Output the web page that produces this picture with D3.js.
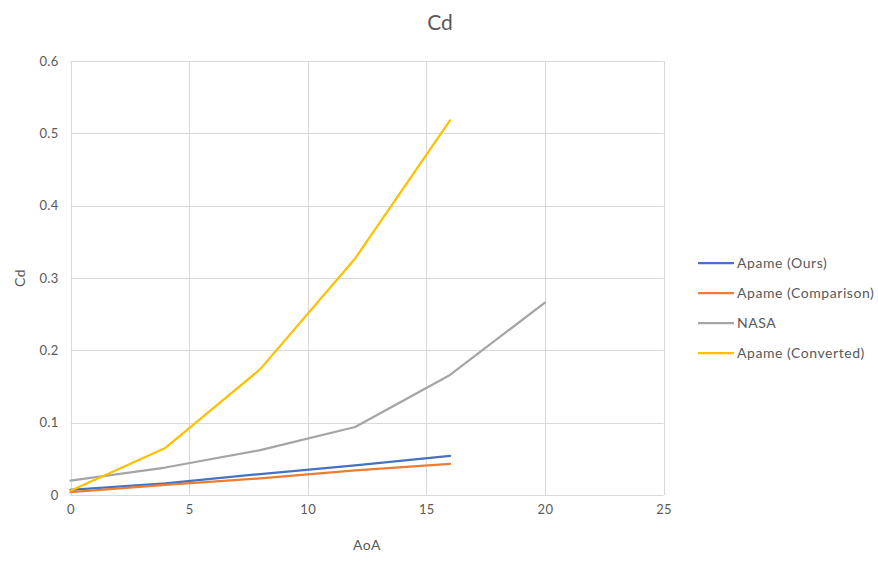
<!DOCTYPE html>
<html>
<head>
<meta charset="utf-8">
<script src="https://cdn.jsdelivr.net/npm/d3@7"></script>
<style>
  html, body { margin: 0; padding: 0; background: #fff; }
  svg { display: block; font-family: Lato, "Open Sans", sans-serif; }
</style>
</head>
<body>
<svg id="chart" width="878" height="569"></svg>
<script>
// Drag coefficient vs angle of attack
const aoa = [0, 4, 8, 12, 16, 20];
const apameOurs = [0.007, 0.016, 0.029, 0.041, 0.054];
const apameComparison = [0.004, 0.014, 0.023, 0.034, 0.043];
const nasa = [0.020, 0.038, 0.062, 0.094, 0.166, 0.266];
const apameConverted = [0.006, 0.065, 0.174, 0.327, 0.518];

const seriesNames = ["Apame (Ours)", "Apame (Comparison)", "NASA", "Apame (Converted)"];
const seriesColors = ["#4472C4", "#ED7D31", "#A5A5A5", "#FFC000"];
const seriesValues = [apameOurs, apameComparison, nasa, apameConverted];

const xTicks = [0, 5, 10, 15, 20, 25];
const yTicks = [0, 0.1, 0.2, 0.3, 0.4, 0.5, 0.6];

const svg = d3.select("#chart");
const plot = { left: 70.5, right: 663.5, top: 61, bottom: 495 };

const x = d3.scaleLinear().domain([0, 25]).range([plot.left, plot.right]);
const y = d3.scaleLinear().domain([0, 0.6]).range([plot.bottom, plot.top]);

const textColor = "#595959";
const gridColor = "#d9d9d9";

// Gridlines
svg.append("g").selectAll("line.v").data(xTicks).join("line")
  .attr("x1", d => Math.round(x(d)) + 0.5).attr("x2", d => Math.round(x(d)) + 0.5)
  .attr("y1", plot.top).attr("y2", plot.bottom)
  .attr("stroke", gridColor).attr("stroke-width", 1);
svg.append("g").selectAll("line.h").data(yTicks).join("line")
  .attr("x1", plot.left).attr("x2", plot.right)
  .attr("y1", d => Math.round(y(d)) + 0.5).attr("y2", d => Math.round(y(d)) + 0.5)
  .attr("stroke", gridColor).attr("stroke-width", 1);

// Axes (labels only; domain lines drawn by the grid)
const xAxis = svg.append("g").attr("transform", `translate(0,${plot.bottom})`)
  .call(d3.axisBottom(x).tickValues(xTicks).tickSize(0).tickPadding(10).tickFormat(d3.format("d")));
const yAxis = svg.append("g").attr("transform", `translate(${plot.left},0)`)
  .call(d3.axisLeft(y).tickValues(yTicks).tickSize(0).tickPadding(12).tickFormat(d => d === 0 ? "0" : d3.format(".1f")(d)));
[xAxis, yAxis].forEach(a => {
  a.select(".domain").remove();
  a.selectAll("text").attr("fill", textColor).style("font-size", "13px")
    .style("letter-spacing", "0.3px").style("font-family", "Lato, 'Open Sans', sans-serif");
});

// Series lines
const line = d3.line().x((d, i) => x(aoa[i])).y(d => y(d));
seriesValues.forEach((vals, k) => {
  svg.append("path").datum(vals)
    .attr("d", line)
    .attr("fill", "none")
    .attr("stroke", seriesColors[k])
    .attr("stroke-width", 2.25)
    .attr("stroke-linejoin", "round")
    .attr("stroke-linecap", "round");
});

// Title
svg.append("text").attr("x", 440).attr("y", 30).attr("text-anchor", "middle")
  .attr("fill", textColor).style("font-size", "21px").text("Cd");

// Axis titles
svg.append("text").attr("x", 367).attr("y", 550).attr("text-anchor", "middle")
  .attr("fill", textColor).style("font-size", "14px").style("letter-spacing", "0.5px").text("AoA");
svg.append("text").attr("transform", "translate(25,278) rotate(-90)").attr("text-anchor", "middle")
  .attr("fill", textColor).style("font-size", "14px").style("letter-spacing", "0.5px").text("Cd");

// Legend
const legend = svg.append("g");
seriesNames.forEach((name, k) => {
  const ly = 263 + k * 30;
  legend.append("line").attr("x1", 698).attr("x2", 734).attr("y1", ly).attr("y2", ly)
    .attr("stroke", seriesColors[k]).attr("stroke-width", 2.25);
  legend.append("text").attr("x", 737).attr("y", ly).attr("dy", "0.35em")
    .attr("fill", textColor).style("font-size", "14px").style("letter-spacing", "0.55px").text(name);
});
</script>
</body>
</html>
